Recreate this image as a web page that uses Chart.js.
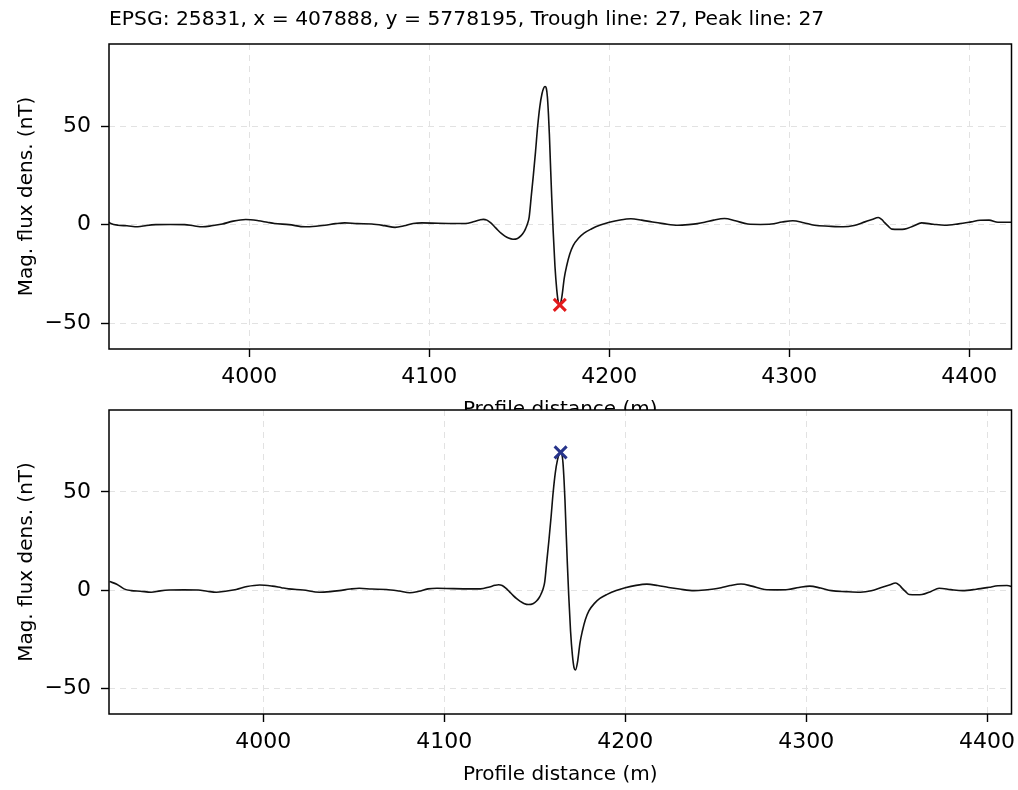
<!DOCTYPE html>
<html>
<head>
<meta charset="utf-8">
<script src="https://cdn.jsdelivr.net/npm/chart.js@4/dist/chart.umd.min.js"></script>
<style>
  html, body { margin: 0; padding: 0; background: #fff; }
  #page { position: relative; width: 1018px; height: 790px; overflow: hidden; }
  #topWrap { position: absolute; left: 0; top: 0; width: 1018px; height: 410px; overflow: hidden; }
  #topChart { position: absolute; left: 0; top: 0; }
  #bottomChart { position: absolute; left: 0; top: 366px; }
</style>
</head>
<body>
<div id="page">
  <div id="topWrap"><canvas id="topChart" width="1023" height="425"></canvas></div>
  <canvas id="bottomChart" width="1023" height="424"></canvas>
</div>
<script>
// profile data (m, nT)
const distance = [
  3915, 3919, 3923, 3927, 3932, 3938, 3943, 3948, 3956, 3964, 3969, 3974, 3979, 3985, 3991, 3998,
  4005, 4010, 4014, 4022, 4031, 4037, 4042, 4048, 4053, 4060, 4068, 4075, 4081, 4086, 4091, 4096,
  4105, 4115, 4120, 4125, 4128, 4130, 4132, 4134, 4136, 4138, 4140, 4142, 4144, 4146.5, 4149, 4151,
  4152.5, 4153.5, 4154.5, 4155.5, 4156.7, 4157.8, 4159, 4160.2, 4161.4, 4162.6, 4163.5, 4164.3, 4165,
  4165.6, 4166.2, 4166.7, 4167.3, 4168, 4168.8, 4169.8, 4170.8, 4171.7, 4172.5, 4173.6, 4175, 4176.3,
  4178, 4180, 4183, 4186, 4190, 4195, 4200, 4206, 4212, 4218, 4224, 4230, 4238, 4244, 4249, 4253,
  4258, 4264, 4270, 4277, 4284, 4290, 4296, 4302, 4308, 4314, 4322, 4330, 4336, 4342, 4346, 4349.5,
  4351.5, 4353, 4355, 4357, 4361, 4364, 4369, 4373.5, 4380, 4386.5, 4394, 4401, 4406, 4411, 4416, 4424
];
const magFlux = [
  4.3, 3.0, 0.6, -0.3, -0.6, -1.1, -0.4, 0.0, 0.1, 0.0, -0.6, -1.1, -0.6, 0.3, 1.8, 2.6,
  2.0, 1.2, 0.6, 0.0, -1.1, -0.8, -0.3, 0.5, 0.9, 0.5, 0.3, -0.5, -1.4, -0.6, 0.6, 0.9,
  0.7, 0.6, 0.6, 1.6, 2.4, 2.7, 2.3, 1.0, -0.8, -2.7, -4.4, -5.8, -6.8, -7.4, -7.0, -5.6,
  -3.8, -2.0, 0.3, 4, 15, 25, 37, 50, 60, 66.5, 69.3, 70.2, 69.3,
  65, 56, 46, 31, 14, -3, -21, -33, -39.5, -40.8, -37, -27, -21,
  -15, -10.5, -6.8, -4.3, -2.2, -0.2, 1.2, 2.4, 3.0, 2.3, 1.3, 0.5, -0.3, 0.0, 0.5, 1.2,
  2.3, 3.1, 2.0, 0.3, 0.1, 0.3, 1.3, 2.0, 1.0, -0.3, -0.8, -1.1, -0.4, 1.4, 2.6, 3.6,
  2.5, 1.0, -0.8, -2.3, -2.4, -2.3, -0.7, 0.9, 0.2, -0.3, 0.4, 1.4, 2.2, 2.3, 1.2, 1.2
];

const troughX = [4172.5];
const troughY = [-40.8];
const peakX = [4164.3];
const peakY = [70.2];

const xTicks = [4000, 4100, 4200, 4300, 4400];
const yTicks = [-50, 0, 50];

const titleText = 'EPSG: 25831, x = 407888, y = 5778195, Trough line: 27, Peak line: 27';

Chart.defaults.font.family = "'DejaVu Sans', sans-serif";
Chart.defaults.color = '#000';

/** Draws the full axes box (matplotlib spines) and the optional left title */
const boxPlugin = {
    id: 'box',
    afterDraw(chart, args, opts) {
        const { ctx, chartArea: a } = chart;
        ctx.save();
        ctx.strokeStyle = '#000';
        ctx.lineWidth = 1.5;
        ctx.strokeRect(a.left, a.top, a.right - a.left, a.bottom - a.top);
        if (opts.title) {
            ctx.fillStyle = '#000';
            ctx.font = "20.3px 'DejaVu Sans', sans-serif";
            ctx.textAlign = 'left';
            ctx.textBaseline = 'middle';
            ctx.fillText(opts.title, a.left, 20);
        }
        ctx.restore();
    }
};

function minusLabel(v) {
    return v < 0 ? '\u2212' + Math.abs(v) : String(v);
}

function makePanel(canvas, xMin, xMax, markX, markY, markColor, title) {
    const h = canvas.height;
    return new Chart(canvas, {
        type: 'line',
        data: {
            datasets: [
                {
                    data: markX.map((x, i) => ({ x, y: markY[i] })),
                    showLine: false,
                    pointStyle: 'crossRot',
                    pointRadius: 8.5,
                    pointBorderWidth: 3,
                    pointBorderColor: markColor,
                    borderColor: markColor,
                    order: 0
                },
                {
                    data: distance.map((x, i) => ({ x, y: magFlux[i] })),
                    borderColor: '#111',
                    borderWidth: 1.6,
                    pointRadius: 0,
                    cubicInterpolationMode: 'monotone',
                    order: 1
                }
            ]
        },
        options: {
            responsive: false,
            animation: false,
            // canvas is 5px wider than the page; Chart.js keeps 12px on the right, so the plot ends at 1011
            layout: { padding: { top: 44, right: 2, left: 0, bottom: 0 } },
            plugins: {
                legend: { display: false },
                tooltip: { enabled: false },
                box: { title }
            },
            scales: {
                x: {
                    type: 'linear',
                    min: xMin,
                    max: xMax,
                    afterBuildTicks: s => { s.ticks = xTicks.map(v => ({ value: v })); },
                    afterFit: s => {
                        s.height = h - (h === 425 ? 349 : 348);
                        s.paddingLeft = 0;
                        s.paddingRight = 0;
                    },
                    ticks: { font: { size: 22 }, padding: 7, maxRotation: 0, callback: v => String(v) },
                    grid: { color: '#e2e2e2', lineWidth: 1, tickLength: 8, tickColor: '#000', tickWidth: 1.4 },
                    border: { display: false, dash: [6, 5] },
                    title: { display: true, text: 'Profile distance (m)', font: { size: 20 }, padding: { top: 0, bottom: 3 } }
                },
                y: {
                    min: -63.2,
                    max: 91.8,
                    afterBuildTicks: s => { s.ticks = yTicks.map(v => ({ value: v })); },
                    afterFit: s => {
                        s.width = 109;
                        s.paddingTop = 0;
                        s.paddingBottom = 0;
                    },
                    ticks: { font: { size: 22 }, padding: 10, callback: minusLabel },
                    grid: { color: '#e2e2e2', lineWidth: 1, tickLength: 8, tickColor: '#000', tickWidth: 1.4 },
                    border: { display: false, dash: [6, 5] },
                    title: { display: true, text: 'Mag. flux dens. (nT)', font: { size: 20 }, padding: { top: 15, bottom: 0 } }
                }
            }
        },
        plugins: [boxPlugin]
    });
}

makePanel(document.getElementById('topChart'), 3922, 4423.5, troughX, troughY, '#e31a1c', titleText);
makePanel(document.getElementById('bottomChart'), 3914.7, 4413.5, peakX, peakY, '#27348b', null);
</script>
</body>
</html>
